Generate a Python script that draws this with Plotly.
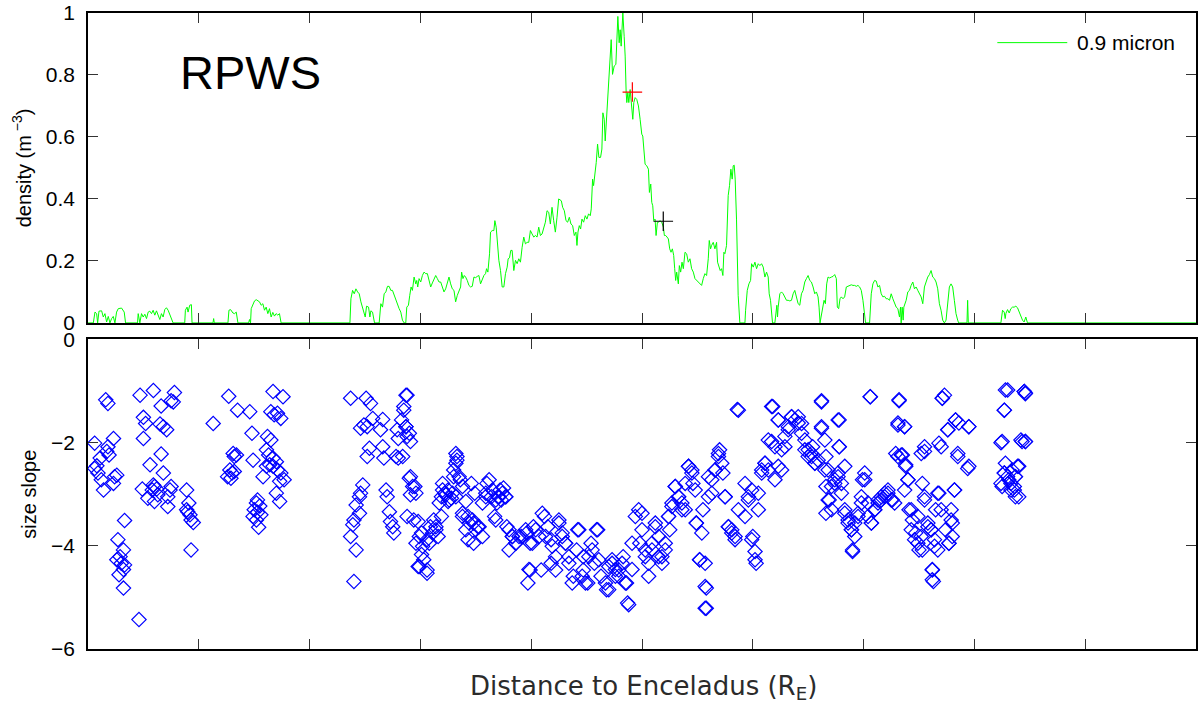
import plotly.graph_objects as go

# ---------------- data ----------------
density_x = [
    0.000, 0.048, 0.063, 0.078, 0.087, 0.099, 0.123, 0.138, 0.153, 0.168, 0.183, 0.198, 0.213, 0.228, 0.243,
    0.258, 0.273, 0.303, 0.327, 0.339, 0.447, 0.453, 0.468, 0.483, 0.498, 0.513, 0.528, 0.543, 0.558, 0.573,
    0.588, 0.603, 0.618, 0.633, 0.648, 0.663, 0.678, 0.693, 0.708, 0.723, 0.738, 0.753, 0.768, 0.873, 0.879,
    0.894, 0.903, 0.918, 0.933, 0.939, 1.128, 1.134, 1.140, 1.263, 1.272, 1.287, 1.308, 1.323, 1.338, 1.353,
    1.449, 1.458, 1.467, 1.473, 1.488, 1.503, 1.518, 1.533, 1.548, 1.563, 1.578, 1.593, 1.608, 1.623, 1.638,
    1.653, 1.668, 1.683, 1.698, 1.713, 1.728, 1.743,
    2.364, 2.373, 2.388, 2.403, 2.418, 2.433, 2.448, 2.463, 2.478, 2.493, 2.502, 2.514, 2.532, 2.544, 2.553,
    2.568, 2.577, 2.586, 2.628, 2.643, 2.658, 2.673, 2.688, 2.703, 2.718, 2.733, 2.748, 2.763, 2.778, 2.793,
    2.808, 2.823, 2.838, 2.853, 2.868, 2.877, 2.892, 2.904, 2.916, 2.928, 2.943, 2.958, 2.967, 2.976, 2.988,
    3.003, 3.018, 3.033, 3.048, 3.063, 3.078, 3.093, 3.108, 3.123, 3.138, 3.153, 3.168, 3.183, 3.198, 3.213,
    3.228, 3.243, 3.258, 3.273, 3.288, 3.303, 3.318, 3.333, 3.348, 3.363, 3.372, 3.384, 3.396, 3.408, 3.423,
    3.438, 3.453, 3.468, 3.483, 3.498, 3.513, 3.528, 3.543, 3.558, 3.573, 3.588, 3.597, 3.609, 3.624, 3.633,
    3.648, 3.663, 3.672, 3.684, 3.696, 3.708, 3.723, 3.738, 3.753, 3.768, 3.783, 3.792, 3.804, 3.816, 3.828,
    3.843, 3.858, 3.873, 3.888, 3.903, 3.918, 3.933, 3.948, 3.963, 3.978, 3.993, 4.008, 4.023, 4.038, 4.053,
    4.068, 4.083, 4.098, 4.113, 4.128, 4.143, 4.158, 4.173, 4.188, 4.203, 4.218, 4.233,
    4.248, 4.272, 4.284, 4.299, 4.314, 4.329, 4.344, 4.359, 4.374, 4.389, 4.404, 4.413, 4.422, 4.434, 4.446,
    4.458, 4.473, 4.488, 4.503, 4.518, 4.533, 4.542, 4.554, 4.563, 4.578, 4.587, 4.599, 4.611, 4.626, 4.638,
    4.647, 4.659, 4.668, 4.683, 4.698, 4.713, 4.722, 4.734, 4.749, 4.764, 4.773, 4.782, 4.794, 4.803, 4.812,
    4.818, 4.827, 4.839, 4.848, 4.857, 4.863, 4.872, 4.881, 4.893, 4.908, 4.917, 4.926, 4.938, 4.953, 4.968,
    4.983, 4.998, 5.007, 5.019, 5.028, 5.043, 5.058, 5.067, 5.079, 5.088, 5.097, 5.106, 5.118, 5.127, 5.139,
    5.148, 5.163, 5.178, 5.193, 5.202, 5.214, 5.226, 5.238, 5.250, 5.262, 5.274, 5.286, 5.295, 5.304, 5.313,
    5.328, 5.337, 5.349, 5.361, 5.373, 5.388, 5.403, 5.418, 5.433, 5.448, 5.463, 5.478, 5.493, 5.508, 5.523,
    5.538, 5.553, 5.568, 5.583, 5.598, 5.607, 5.619, 5.628, 5.643, 5.658, 5.673, 5.682, 5.694, 5.706, 5.718,
    5.730, 5.739, 5.748, 5.763, 5.772, 5.778, 5.790, 5.802, 5.814, 5.823, 5.832, 5.841, 5.853, 5.868, 5.883,
    5.929, 5.935, 5.950, 5.965, 5.980, 5.989, 6.004, 6.019, 6.034, 6.049, 6.064, 6.079, 6.094, 6.109, 6.124,
    6.139, 6.148, 6.160, 6.169, 6.178, 6.199, 6.208, 6.217, 6.223, 6.229, 6.244, 6.259, 6.274, 6.289, 6.304,
    6.319, 6.334, 6.349, 6.364, 6.379, 6.394, 6.409, 6.424, 6.439, 6.454, 6.469, 6.484, 6.499, 6.514, 6.529,
    6.544, 6.559, 6.574, 6.589, 6.598, 6.607, 6.616, 6.625, 6.634, 6.643, 6.655, 6.667, 6.679, 6.694, 6.709,
    6.724, 6.739, 6.754, 6.763, 6.775, 6.787, 6.799, 6.814, 6.829, 6.844, 6.859, 6.874, 6.889, 6.904, 6.919,
    6.934, 6.949, 6.964, 6.979, 6.994, 7.009, 7.018, 7.054, 7.069, 7.084, 7.099, 7.114, 7.129, 7.144, 7.159,
    7.174, 7.189, 7.204, 7.219, 7.234, 7.249, 7.264, 7.279, 7.294, 7.309, 7.324, 7.333, 7.339, 7.348, 7.357,
    7.363, 7.369, 7.384, 7.399, 7.414, 7.429, 7.444, 7.459, 7.474, 7.489, 7.504, 7.519, 7.534, 7.549, 7.564,
    7.579, 7.594, 7.609, 7.624, 7.639, 7.654, 7.669, 7.684, 7.699, 7.714, 7.729, 7.744, 7.759, 7.774, 7.789,
    7.804, 7.819, 7.834, 7.849, 7.858, 7.933, 7.939, 7.945, 8.239, 8.254, 8.269, 8.278, 8.284, 8.299, 8.314,
    8.329, 8.344, 8.359, 8.374, 8.389, 8.404, 8.419, 8.434, 8.449, 8.464, 8.479, 10.000,
]
density_y = [
    0.000, 0.000, 0.035, 0.030, 0.000, 0.038, 0.039, 0.019, 0.030, 0.003, 0.021, 0.000, 0.014, 0.021, 0.000,
    0.035, 0.046, 0.048, 0.035, 0.000, 0.000, 0.030, 0.000, 0.030, 0.019, 0.028, 0.014, 0.035, 0.038, 0.030,
    0.041, 0.025, 0.039, 0.025, 0.011, 0.030, 0.019, 0.043, 0.049, 0.041, 0.025, 0.009, 0.000, 0.000, 0.041,
    0.051, 0.035, 0.057, 0.059, 0.000, 0.000, 0.014, 0.000, 0.000, 0.041, 0.043, 0.032, 0.030, 0.035, 0.000,
    0.000, 0.011, 0.000, 0.046, 0.062, 0.071, 0.075, 0.071, 0.068, 0.057, 0.062, 0.041, 0.051, 0.030, 0.046,
    0.019, 0.034, 0.022, 0.030, 0.025, 0.030, 0.000,
    0.000, 0.078, 0.105, 0.094, 0.110, 0.100, 0.094, 0.068, 0.051, 0.035, 0.019, 0.054, 0.051, 0.019, 0.039,
    0.035, 0.021, 0.000, 0.000, 0.062, 0.051, 0.094, 0.100, 0.118, 0.118, 0.105, 0.105, 0.089, 0.073, 0.062,
    0.046, 0.035, 0.009, 0.000, 0.000, 0.051, 0.057, 0.089, 0.116, 0.105, 0.148, 0.126, 0.137, 0.116, 0.143,
    0.132, 0.153, 0.164, 0.159, 0.159, 0.137, 0.116, 0.129, 0.143, 0.153, 0.143, 0.132, 0.132, 0.116, 0.100,
    0.110, 0.132, 0.148, 0.126, 0.110, 0.105, 0.068, 0.089, 0.105, 0.116, 0.164, 0.143, 0.153, 0.148, 0.137,
    0.121, 0.116, 0.118, 0.148, 0.146, 0.150, 0.153, 0.126, 0.143, 0.153, 0.159, 0.175, 0.164, 0.223, 0.293,
    0.298, 0.298, 0.330, 0.309, 0.255, 0.202, 0.169, 0.116, 0.116, 0.159, 0.180, 0.207, 0.210, 0.234, 0.234,
    0.169, 0.202, 0.191, 0.207, 0.196, 0.244, 0.277, 0.255, 0.260, 0.260, 0.298, 0.287, 0.277, 0.282, 0.277,
    0.309, 0.282, 0.287, 0.309, 0.325, 0.362, 0.357, 0.319, 0.373, 0.330, 0.293, 0.341,
    0.400, 0.394, 0.373, 0.362, 0.330, 0.325, 0.341, 0.319, 0.314, 0.282, 0.293, 0.250, 0.293, 0.314, 0.303,
    0.335, 0.325, 0.346, 0.335, 0.352, 0.346, 0.368, 0.464, 0.443, 0.486, 0.518, 0.577, 0.534, 0.534, 0.561,
    0.678, 0.657, 0.587, 0.678, 0.796, 0.871, 0.914, 0.802, 0.829, 0.834, 0.925, 0.989, 0.904, 0.946, 0.893,
    0.936, 1.000, 0.925, 0.861, 0.743, 0.711, 0.743, 0.711, 0.753, 0.700, 0.657, 0.711, 0.727, 0.721, 0.700,
    0.657, 0.609, 0.603, 0.561, 0.512, 0.507, 0.496, 0.421, 0.448, 0.389, 0.378, 0.330, 0.335, 0.282, 0.325,
    0.325, 0.330, 0.325, 0.309, 0.282, 0.282, 0.277, 0.271, 0.239, 0.228, 0.239, 0.218, 0.175, 0.137, 0.164,
    0.126, 0.185, 0.164, 0.196, 0.175, 0.228, 0.223, 0.196, 0.207, 0.175, 0.164, 0.143, 0.137, 0.132, 0.126,
    0.121, 0.143, 0.159, 0.153, 0.207, 0.266, 0.239, 0.250, 0.260, 0.239, 0.260, 0.196, 0.180, 0.169, 0.175,
    0.153, 0.228, 0.223, 0.250, 0.325, 0.411, 0.443, 0.496, 0.464, 0.507, 0.509, 0.464, 0.335, 0.089, 0.000,
    0.000, 0.041, 0.105, 0.126, 0.137, 0.191, 0.180, 0.196, 0.175, 0.191, 0.185, 0.191, 0.180, 0.148, 0.164,
    0.148, 0.094, 0.073, 0.030, 0.000, 0.000, 0.030, 0.057, 0.019, 0.051, 0.094, 0.100, 0.094, 0.084, 0.073,
    0.073, 0.071, 0.073, 0.094, 0.105, 0.078, 0.062, 0.057, 0.094, 0.105, 0.132, 0.143, 0.153, 0.137, 0.132,
    0.116, 0.094, 0.100, 0.084, 0.051, 0.000, 0.019, 0.041, 0.051, 0.073, 0.062, 0.126, 0.148, 0.145, 0.148,
    0.150, 0.156, 0.143, 0.051, 0.046, 0.078, 0.084, 0.078, 0.084, 0.116, 0.118, 0.121, 0.123, 0.121, 0.121,
    0.118, 0.121, 0.116, 0.105, 0.073, 0.030, 0.000, 0.000, 0.094, 0.126, 0.137, 0.135, 0.116, 0.121, 0.094,
    0.084, 0.086, 0.078, 0.078, 0.073, 0.094, 0.078, 0.062, 0.051, 0.046, 0.019, 0.051, 0.000, 0.051, 0.009,
    0.051, 0.057, 0.073, 0.100, 0.105, 0.121, 0.132, 0.110, 0.116, 0.105, 0.094, 0.084, 0.062, 0.116, 0.132,
    0.148, 0.156, 0.169, 0.148, 0.143, 0.132, 0.110, 0.062, 0.041, 0.009, 0.000, 0.009, 0.078, 0.116, 0.126,
    0.116, 0.073, 0.030, 0.009, 0.000, 0.000, 0.073, 0.000, 0.000, 0.041, 0.035, 0.014, 0.030, 0.043, 0.032,
    0.046, 0.051, 0.051, 0.054, 0.049, 0.035, 0.025, 0.009, 0.003, 0.019, 0.000, 0.000,
]

# reference points on the density profile
red_mark_x = [4.913]
red_mark_y = [0.745]
black_mark_x = [5.192]
black_mark_y = [0.328]

slope_x = [
    0.06, 0.08, 0.06, 0.11, 0.12, 0.14, 0.09, 0.16, 0.18, 0.17, 0.19, 0.18, 0.23, 0.24, 0.26, 0.23, 0.33, 0.27,
    0.29, 0.32, 0.26, 0.30, 0.33, 0.28, 0.32, 0.32, 0.46, 0.47, 0.59, 0.78, 0.75, 0.77, 0.66, 0.50, 0.52, 0.50,
    0.65, 0.71, 0.68, 0.66, 0.56, 0.68, 0.49, 0.54, 0.59, 0.60, 0.62, 0.58, 0.63, 0.60, 0.74, 0.72, 0.75, 0.72,
    0.89, 0.91, 0.89, 0.92, 0.93, 0.90, 0.95, 0.93, 1.13, 1.27, 1.35, 1.46, 1.48, 1.49, 1.31, 1.32, 1.34, 1.28,
    1.30, 1.32, 1.26, 1.29, 1.67, 1.76, 1.65, 1.68, 1.74, 1.71, 1.62, 1.65, 1.61, 1.63, 1.67, 1.70, 1.61, 1.64,
    1.58, 1.67, 1.71, 1.74, 1.77, 1.73, 1.70, 1.73, 1.53, 1.52, 1.55, 1.50, 1.53, 1.49, 1.56, 1.54, 1.52,
    2.37, 2.51, 2.55, 2.46, 2.49, 2.52, 2.57, 2.66, 2.64, 2.54, 2.52, 2.66, 2.67, 2.48, 2.46, 2.45, 2.42, 2.45,
    2.40, 2.39, 2.37, 2.42, 2.40, 2.69, 2.70, 2.72, 2.73, 2.75, 2.76, 2.78, 2.79,
    2.88, 2.85, 2.83, 2.87, 2.80, 2.88, 2.91, 2.80, 2.90, 2.95, 2.91, 2.88, 2.98, 3.01, 3.06, 2.96, 3.01, 2.98,
    3.06, 3.09, 3.14, 3.12, 3.19, 3.16, 3.20, 3.22, 3.25, 3.19, 3.32, 3.33, 3.30, 3.35, 3.25, 3.28, 3.32, 3.38,
    3.41, 3.38, 3.43, 3.48, 3.52, 3.43, 3.48, 3.56, 3.46, 3.49, 3.59, 3.62, 3.64, 3.69, 3.67, 3.72, 3.75, 3.77,
    3.73, 3.70, 3.78, 3.83, 3.80, 3.86, 3.91, 3.96, 4.02, 3.99, 3.97, 3.99, 4.09, 4.07, 4.12, 4.15, 4.18, 4.18,
    4.22, 4.25, 4.28, 4.31, 4.34, 4.38, 4.42, 4.41, 4.47, 4.51, 4.47, 4.54, 4.60, 4.57, 4.63, 4.68, 4.70, 4.73,
    4.76, 4.79, 4.83, 4.86, 4.87,
    5.00, 4.98, 5.03, 5.06, 5.09, 5.12, 5.15, 5.18, 5.21, 5.24, 5.25, 5.27, 5.30, 5.33, 5.36, 5.39, 5.42, 5.45,
    5.46, 5.48, 5.49, 5.54, 5.52, 5.57, 5.58, 5.58, 5.55, 5.60, 5.63, 5.66, 5.69, 5.70, 5.73, 5.75, 5.78, 5.81,
    5.84, 5.87, 5.86, 5.93, 5.96, 5.99, 6.00, 6.02, 6.03, 6.05, 6.08, 6.11, 6.14, 6.17, 6.18, 6.23, 6.26, 6.23,
    6.20, 6.29, 6.32, 6.35, 6.38, 6.41, 6.44, 6.47, 6.50, 6.53, 6.56, 6.59, 6.62, 6.62, 6.65, 6.66, 6.69, 6.71,
    6.74, 6.77, 6.78, 6.77, 6.80, 6.83, 6.86, 6.89, 6.90, 6.92, 6.95, 6.98, 7.01, 7.04, 7.07, 7.10, 7.13, 7.16,
    7.19, 7.22, 7.25, 7.28, 7.06, 7.32, 7.31, 7.37, 7.29, 7.35, 7.38, 7.40, 7.37, 7.41, 7.43, 7.46, 7.49, 7.52,
    7.53, 7.55, 7.52, 7.55, 7.58, 7.61, 7.62, 7.63, 7.64, 7.67, 7.68, 7.70, 7.73, 7.71, 7.76, 7.79, 7.82, 7.80,
    7.83, 7.86, 7.95, 7.85, 7.94, 7.80, 7.77, 8.30, 8.27, 8.45, 8.46, 8.25, 8.42, 8.46, 8.28, 8.25, 8.31, 8.34,
    8.40, 8.37, 8.36, 8.33, 8.37, 8.27,
    2.87, 2.85, 2.87, 2.90, 2.84, 2.91, 2.93, 2.96, 2.94, 2.99, 3.02, 2.99, 3.06, 3.03, 3.08, 3.11, 3.14, 3.17,
    3.20, 3.23, 3.26, 3.29, 3.30, 3.33, 3.32, 3.36, 3.38, 3.41, 3.44, 3.47, 3.50, 3.53, 3.56, 3.59, 3.60, 3.65,
    3.68, 3.71, 3.74, 3.77, 3.68, 3.80, 3.83, 3.86, 3.89, 3.95, 3.98, 4.01, 4.04, 4.10, 4.13, 4.19, 4.22, 4.25,
    4.28, 4.31, 4.34, 4.37, 4.43, 4.46, 4.49, 4.52, 4.55, 4.59, 4.61, 4.67, 4.70, 4.73, 4.76, 4.79, 4.82, 4.85,
    4.88, 4.91, 4.91, 4.94, 4.97, 5.00, 5.03, 5.06, 5.09, 5.12, 5.15, 5.18, 5.21, 5.24, 5.27, 5.30, 5.33, 5.36,
    5.39, 5.42, 5.45, 5.49, 5.52, 5.57, 5.57, 5.60, 5.63, 5.66, 5.69, 5.72, 5.75, 5.78, 5.81, 5.84, 5.87, 5.93,
    5.96, 5.99, 6.02, 6.05, 6.08, 6.11, 6.14, 6.17, 6.23, 6.20, 6.26, 6.29, 6.32, 6.35,
    6.41, 6.44, 6.47, 6.50, 6.53, 6.56, 6.54, 6.62, 6.62, 6.65, 6.66, 6.68, 6.71, 6.74, 6.77, 6.78, 6.78, 6.80,
    6.83, 6.68, 6.66, 6.83, 6.86, 6.89, 6.90, 6.92, 6.95, 6.98, 7.01, 6.99, 7.04, 7.07, 7.06, 7.10, 7.13, 7.16,
    7.19, 7.22, 7.26, 7.31, 7.32, 7.31, 7.37, 7.34, 7.38, 7.40, 7.43, 7.44, 7.47, 7.49, 7.50, 7.53, 7.55, 7.55,
    7.58, 7.61, 7.62, 7.62, 7.64, 7.65, 7.67, 7.68, 7.71, 7.70, 7.74, 7.77, 7.79, 7.82, 7.76, 7.83, 7.85, 7.95,
    7.95, 8.24, 8.27, 8.28, 8.24, 8.27, 8.30, 8.33, 8.36, 8.39, 8.40, 8.37, 8.45, 8.46, 8.43, 8.46,
]
slope_y = [
    -2.01, -2.45, -2.50, -2.30, -2.72, -2.92, -2.59, -1.17, -1.24, -2.17, -2.24, -2.08, -1.92, -2.66, -2.63,
    -2.79, -3.51, -3.88, -4.21, -4.08, -4.27, -4.34, -4.37, -4.56, -4.82, -4.46, -5.43, -1.08, -0.99, -1.03,
    -1.19, -1.21, -1.29, -1.51, -1.63, -1.92, -1.64, -1.75, -1.69, -2.22, -2.43, -2.59, -2.90, -3.08, -2.82,
    -2.85, -2.90, -2.92, -3.01, -3.14, -2.92, -3.05, -2.85, -3.24, -2.92, -3.17, -3.30, -3.40, -3.50, -3.34,
    -3.55, -4.08, -1.63, -1.10, -1.37, -1.40, -1.82, -2.34, -2.21, -2.27, -2.24, -2.53, -2.59, -2.56, -2.66,
    -2.69, -1.01, -1.11, -1.40, -1.46, -1.53, -1.43, -1.88, -1.95, -2.14, -2.24, -2.30, -2.37, -2.46, -2.43,
    -2.66, -2.46, -2.53, -2.59, -2.72, -2.75, -2.98, -3.14, -3.11, -3.17, -3.23, -3.30, -3.35, -3.43, -3.40,
    -3.64, -3.50,
    -1.14, -1.14, -1.24, -1.72, -1.66, -1.69, -1.53, -1.55, -1.75, -2.11, -2.27, -2.08, -2.30, -2.82, -2.98,
    -3.05, -3.21, -3.37, -3.50, -3.59, -3.82, -4.08, -4.69, -2.92, -3.05, -3.34, -3.53, -3.63, -3.75, -2.27,
    -1.75,
    -1.08, -1.30, -1.56, -1.69, -1.92, -1.88, -1.98, -2.30, -2.69, -2.85, -3.01, -3.43, -3.53, -3.75, -3.88,
    -3.95, -4.17, -4.40, -4.47, -3.63, -3.69, -3.50, -3.43, -3.82, -2.79, -2.98, -3.14, -3.05, -2.21, -2.34,
    -2.53, -2.66, -2.92, -3.08, -3.05, -2.85, -3.14, -3.37, -3.43, -3.56, -3.63, -3.88, -3.95, -3.82, -2.79,
    -2.98, -2.98, -2.72, -3.05, -3.17, -3.43, -2.92, -2.88, -3.05, -3.11, -3.05, -3.63, -3.82, -4.08, -3.95,
    -3.82, -3.75, -3.63, -3.95, -4.72, -4.47, -4.47, -3.82, -3.43, -3.63, -3.88, -4.34, -4.47, -3.50, -3.75,
    -3.95, -4.21, -4.59, -3.69, -4.08, -4.47, -4.72, -4.21, -3.95, -3.69, -4.34, -4.59, -4.85, -4.40, -4.27,
    -4.59, -4.47, -4.21, -4.72, -5.11,
    -3.37, -3.95, -4.21, -4.59, -4.08, -3.63, -4.21, -4.34, -3.95, -3.43, -3.69, -3.24, -2.85, -3.05, -3.17,
    -3.30, -2.46, -2.53, -2.79, -2.92, -3.56, -3.75, -4.27, -4.34, -4.82, -5.21, -3.30, -3.05, -2.72, -2.53,
    -2.27, -2.14, -2.59, -3.05, -3.63, -3.75, -3.88, -3.30, -1.36, -3.43, -3.11, -2.92, -3.82, -4.11, -4.34,
    -3.30, -2.59, -2.40, -2.53, -1.98, -1.30, -1.56, -2.14, -2.46, -2.72, -1.88, -1.69, -1.50, -1.56, -1.62,
    -1.82, -2.14, -2.27, -2.21, -2.40, -2.34, -1.69, -1.19, -2.53, -2.85, -3.11, -3.30, -2.79, -2.66, -2.08,
    -1.56, -2.98, -3.37, -3.56, -3.69, -4.11, -3.82, -3.43, -3.17, -2.72, -3.43, -3.56, -3.30, -3.17, -3.11,
    -3.05, -2.98, -3.11, -3.17, -1.11, -1.19, -1.62, -1.69, -2.21, -2.24, -2.46, -2.72, -2.92, -3.30, -3.69,
    -3.88, -3.43, -3.82, -4.08, -2.17, -2.21, -3.11, -3.63, -3.69, -4.47, -4.69, -3.88, -4.08, -2.98, -2.08,
    -1.08, -1.14, -1.75, -3.30, -2.92, -3.56, -1.56, -1.62, -1.69, -2.27, -2.50, -3.82, -3.95, -0.98, -1.37,
    -1.01, -1.04, -1.98, -1.95, -1.98, -2.40, -2.85, -2.72, -2.53, -2.46, -2.66, -2.85, -2.92, -3.05, -2.59,
    -1.08, -1.37, -1.69, -1.82, -2.27, -2.66, -2.85, -2.98, -3.50, -3.82, -4.01, -4.40, -4.53, -4.27, -3.95,
    -3.75, -3.63, -3.17, -2.92, -3.01, -3.11, -2.98, -2.66, -2.27, -2.40, -2.72, -3.43, -3.69, -3.56, -3.50,
    -3.69, -3.63, -3.17, -3.05, -2.79, -2.92, -3.11, -3.05, -2.98, -3.05, -3.50, -3.69, -3.82, -3.95, -3.82,
    -3.69, -4.46, -3.95, -3.69, -3.37, -3.82, -4.01, -4.21, -3.56, -3.82, -3.95, -4.34, -4.72, -3.69, -4.59,
    -4.72, -4.21, -4.08, -3.69, -4.27, -4.72, -4.85, -4.34, -4.46, -4.59, -4.34, -4.72, -5.14, -4.46, -3.95,
    -3.43, -3.30, -3.69, -4.08, -4.34, -3.95, -3.56, -3.82, -4.21, -4.08, -3.43, -3.17, -2.85, -3.05, -3.30,
    -2.79, -2.46, -2.59, -3.56, -4.27, -4.79, -5.21, -2.66, -2.98, -2.53, -2.21, -2.40, -3.05, -3.63, -3.69,
    -3.82, -1.37, -2.79, -3.05, -3.88, -4.27, -2.98, -2.53, -2.40, -1.95, -1.30, -1.56, -2.08, -2.53, -2.08,
    -1.75, -1.50,
    -1.50, -1.63, -1.95, -2.14, -2.27, -2.40, -2.08, -1.21, -1.72, -1.95, -2.27, -2.53, -2.85, -2.72, -2.59,
    -1.56, -2.08, -2.79, -2.46, -3.11, -3.37, -3.30, -3.50, -3.69, -4.08, -3.56, -3.37, -3.05, -2.59, -2.72,
    -3.17, -3.56, -1.11, -3.30, -3.11, -3.05, -2.98, -2.92, -3.11, -2.27, -1.17, -1.66, -1.69, -2.24, -2.43,
    -2.72, -3.30, -3.50, -3.75, -3.95, -4.08, -2.79, -2.08, -3.05, -3.56, -3.69, -4.46, -4.66, -4.01, -3.30,
    -2.98, -2.01, -1.14, -3.30, -3.69, -3.95, -3.50, -2.92, -1.75, -1.56, -2.21, -1.69, -2.46, -2.00, -1.37,
    -0.98, -2.79, -2.59, -2.66, -2.79, -2.92, -2.46, -3.05, -2.66, -1.01, -1.05, -1.98, -1.98,
]

x_ticks = [1, 2, 3, 4, 5, 6, 7, 8, 9]

# ---------------- figure ----------------
fig = go.Figure()

fig.add_trace(go.Scatter(
    x=density_x, y=density_y, mode="lines", name="0.9 micron",
    line=dict(color="#00ff00", width=1), xaxis="x", yaxis="y", showlegend=False,
))
fig.add_trace(go.Scatter(
    x=red_mark_x, y=red_mark_y, mode="markers", xaxis="x", yaxis="y", showlegend=False,
    marker=dict(symbol="cross-thin", size=14, line=dict(color="#ff0000", width=1.2)),
))
fig.add_trace(go.Scatter(
    x=black_mark_x, y=black_mark_y, mode="markers", xaxis="x", yaxis="y", showlegend=False,
    marker=dict(symbol="cross-thin", size=14, line=dict(color="#000000", width=1.2)),
))
fig.add_trace(go.Scatter(
    x=slope_x, y=slope_y, mode="markers", xaxis="x2", yaxis="y2", showlegend=False,
    marker=dict(symbol="diamond-open", size=11, color="#0000ff", line=dict(color="#0000ff", width=1.2)),
))

base_font = "Liberation Sans, Arial, sans-serif"
tick_font = dict(family=base_font, size=21, color="#000000")
title_font = dict(family=base_font, size=20, color="#000000")
common_x = dict(
    range=[0, 10], tickvals=x_ticks, showticklabels=False, ticks="inside", ticklen=10,
    tickcolor="#333333", tickwidth=1.2, showline=True, linecolor="#000000", linewidth=1.5,
    mirror="ticks", showgrid=False, zeroline=False,
)
common_y = dict(
    ticks="inside", ticklen=10, tickcolor="#333333", tickwidth=1.2, showline=True,
    linecolor="#000000", linewidth=1.5, mirror="ticks", showgrid=False, zeroline=False,
    tickfont=tick_font, ticklabelstandoff=7,
)

fig.update_layout(
    width=1199, height=706,
    margin=dict(l=88, r=1, t=12, b=57),
    paper_bgcolor="white", plot_bgcolor="white",
    showlegend=False,
    xaxis=dict(domain=[0, 1], anchor="y", **common_x),
    yaxis=dict(domain=[0.5127, 1], anchor="x", range=[0, 1], tickvals=[0, 0.2, 0.4, 0.6, 0.8, 1],
               ticktext=["0", "0.2", "0.4", "0.6", "0.8", "1"],
               title=dict(text="density (m<sup> \u22123</sup>)", standoff=9, font=title_font),
               **common_y),
    xaxis2=dict(domain=[0, 1], anchor="y2", **common_x),
    yaxis2=dict(domain=[0, 0.4867], anchor="x2", range=[-6, 0], tickvals=[-6, -4, -2, 0],
                ticktext=["\u22126", "\u22124", "\u22122", "0"],
                title=dict(text="size slope", standoff=9, font=title_font),
                **common_y),
    annotations=[
        dict(text="RPWS", xref="paper", yref="paper", x=0.1468, y=0.906, xanchor="center", yanchor="middle",
             showarrow=False, font=dict(family=base_font, size=47, color="#000000")),
        dict(text="0.9 micron", xref="paper", yref="paper", x=0.891, y=0.9534, xanchor="left", yanchor="middle",
             showarrow=False, font=dict(family=base_font, size=21, color="#000000")),
        dict(text="Distance to Enceladus (R<sub>E</sub>)", xref="paper", yref="paper", x=0.5018, y=-0.0612,
             xanchor="center", yanchor="middle", showarrow=False,
             font=dict(family="DejaVu Sans, sans-serif", size=26, color="#2b2b2b")),
    ],
    shapes=[
        dict(type="line", xref="paper", yref="paper", x0=0.8207, x1=0.8838, y0=0.9534, y1=0.9534,
             line=dict(color="#00ff00", width=1)),
    ],
)

fig.write_html("out.html")
